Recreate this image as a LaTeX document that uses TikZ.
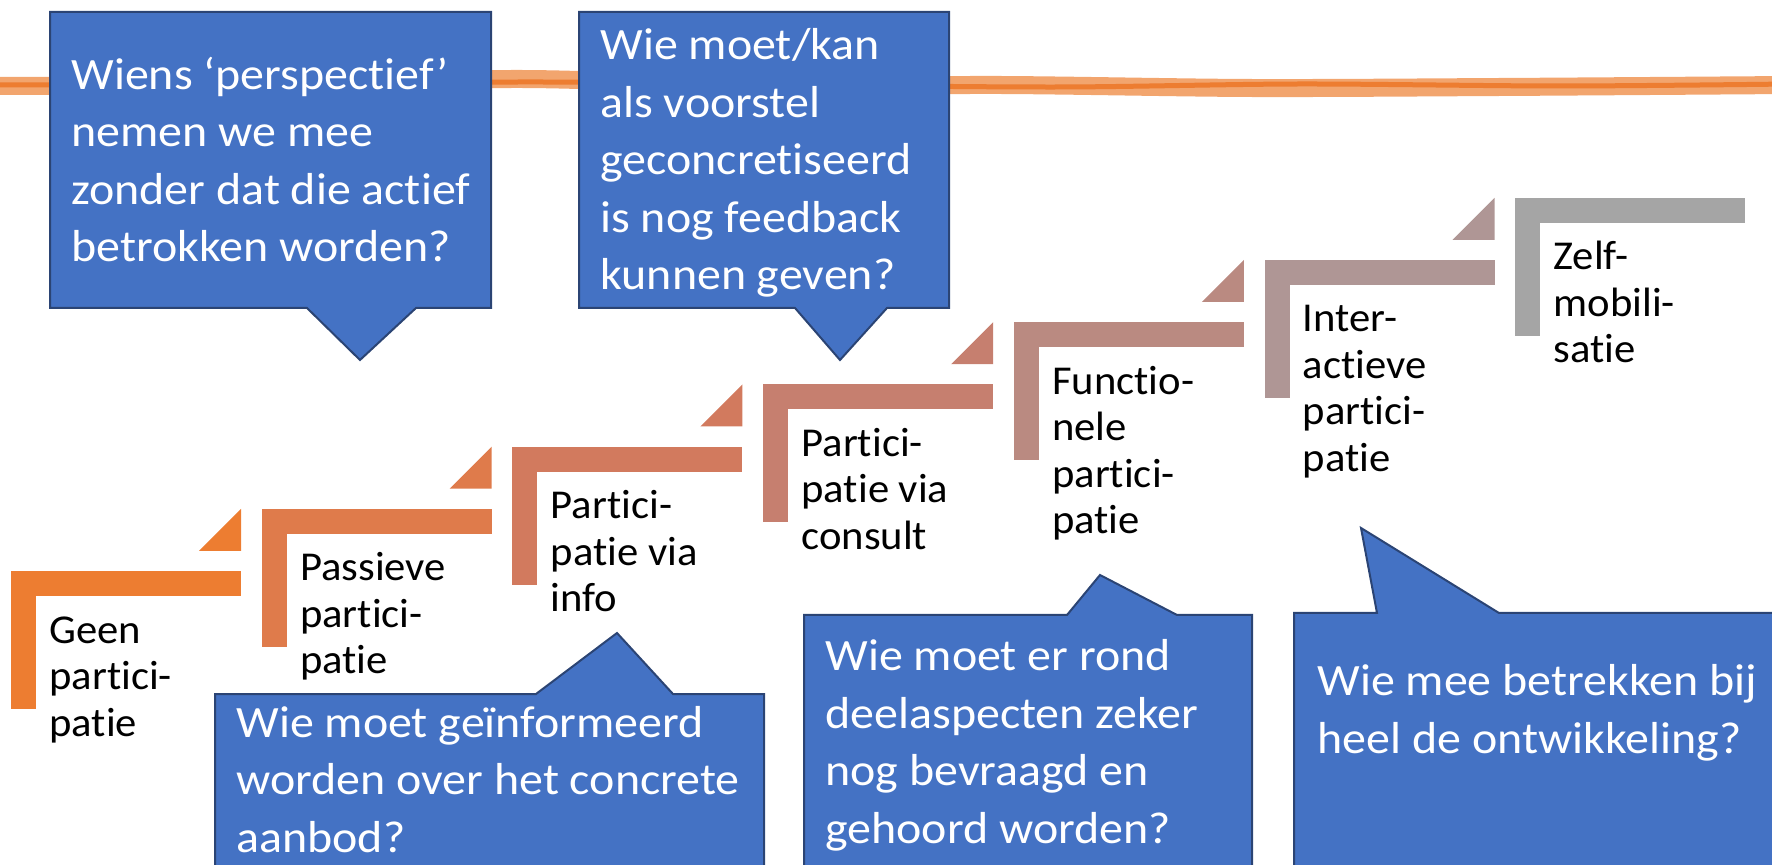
\documentclass[tikz,border=0pt]{standalone}
\usepackage{fontspec}
\setmainfont{Carlito}[Ligatures={NoRequired,NoCommon,NoContextual,NoRare}, Contextuals={NoAlternate}]

\definecolor{callblue}{HTML}{4472C4}
\definecolor{callline}{HTML}{2B4474}
\definecolor{lineorange}{HTML}{ED7D31}
\definecolor{lightorange}{HTML}{F2A56E}
\definecolor{stair1}{HTML}{ED7D31}
\definecolor{stair2}{HTML}{DF7B4B}
\definecolor{stair3}{HTML}{D27A5E}
\definecolor{stair4}{HTML}{C67F6F}
\definecolor{stair5}{HTML}{BA8A81}
\definecolor{stair6}{HTML}{AF9695}
\definecolor{stair7}{HTML}{A5A5A5}

\begin{document}
\begin{tikzpicture}[
      x=0.5pt, y=-0.5pt,
      callout/.style={fill=callblue, draw=callline, line width=1pt, line join=miter},
      ask/.style={text=white, anchor=base west, inner sep=0pt, align=left, xscale=1.07,
        font=\fontsize{22.4}{28.75}\selectfont},
      stairtext/.style={text=black, anchor=base west, inner sep=0pt, align=left, xscale=1.04,
        font=\fontsize{20.5}{23.25}\selectfont}
    ]
    \useasboundingbox (0,0) rectangle (1772,865);
    \clip (0,0) rectangle (1772,865);

    % Orange line behind the top callouts
    \draw[lightorange, line width=9pt] plot[smooth] coordinates {(-10,86) (220,85) (520,79) (760,86) (1000,85) (1250,88) (1500,87) (1790,85)};
    \draw[lineorange, line width=2.5pt] plot[smooth] coordinates {(-10,85) (260,84) (540,82) (800,85) (1060,87) (1300,84) (1560,86) (1790,84)};

    % Steps (text anchored at the baseline of its last line)
    \foreach \i/\nl/\txt in {0/3/{Geen\\partici-\\patie}, 1/3/{Passieve\\partici-\\patie},
        2/3/{Partici-\\patie via\\info}, 3/3/{Partici-\\patie via\\consult},
        4/4/{Functio-\\nele\\partici-\\patie}, 5/4/{Inter-\\actieve\\partici-\\patie},
        6/3/{Zelf-\\mobili-\\satie}} {
      \pgfmathsetmacro\sx{11+250.7*\i}
      \pgfmathsetmacro\sy{571-62.2*\i}
      \pgfmathtruncatemacro\n{\i+1}
      \fill[stair\n] (\sx,\sy) rectangle ++(230,25);
      \fill[stair\n] (\sx,\sy) rectangle ++(25,138);
      \ifnum\i<6
        \fill[stair\n] (\sx+230,\sy-62.2) -- ++(0,42) -- ++(-42,0) -- cycle;
      \fi
      \node[stairtext] (stair\n) at (\sx+38,\sy+72+46.5*\nl-46.5) {\txt};
    }

    % Top callouts
    \draw[callout] (50,12) -- (491,12) -- (491,308) -- (416,308) -- (360,360)
      -- (307,308) -- (50,308) -- cycle;
    \node[ask] (perspectief) at (71,262) {Wiens ‘perspectief’\\nemen we mee\\zonder dat die actief\\betrokken worden?};

    \draw[callout] (579,12) -- (949,12) -- (949,308) -- (887,308) -- (840,360)
      -- (795,308) -- (579,308) -- cycle;
    \node[ask] (feedback) at (600,290) {Wie moet/kan\\als voorstel\\geconcretiseerd\\is nog feedback\\kunnen geven?};

    % Bottom callouts
    \draw[callout] (215,694) -- (536,694) -- (617,633) -- (673,694) -- (764,694)
      -- (764,890) -- (215,890) -- cycle;
    \node[ask] (informeren) at (236,852) {Wie moet geïnformeerd\\worden over het concrete\\aanbod?};

    \draw[callout] (804,615) -- (1067,615) -- (1100,575) -- (1177,615) -- (1252,615)
      -- (1252,890) -- (804,890) -- cycle;
    \node[ask] (deelaspecten) at (825,843) {Wie moet er rond\\deelaspecten zeker\\nog bevraagd en\\gehoord worden?};

    \draw[callout] (1294,613) -- (1377,613) -- (1361,528) -- (1499,613) -- (1800,613)
      -- (1800,890) -- (1294,890) -- cycle;
    \node[ask] (ontwikkeling) at (1317,753) {Wie mee betrekken bij\\heel de ontwikkeling?};
  \end{tikzpicture}
\end{document}
